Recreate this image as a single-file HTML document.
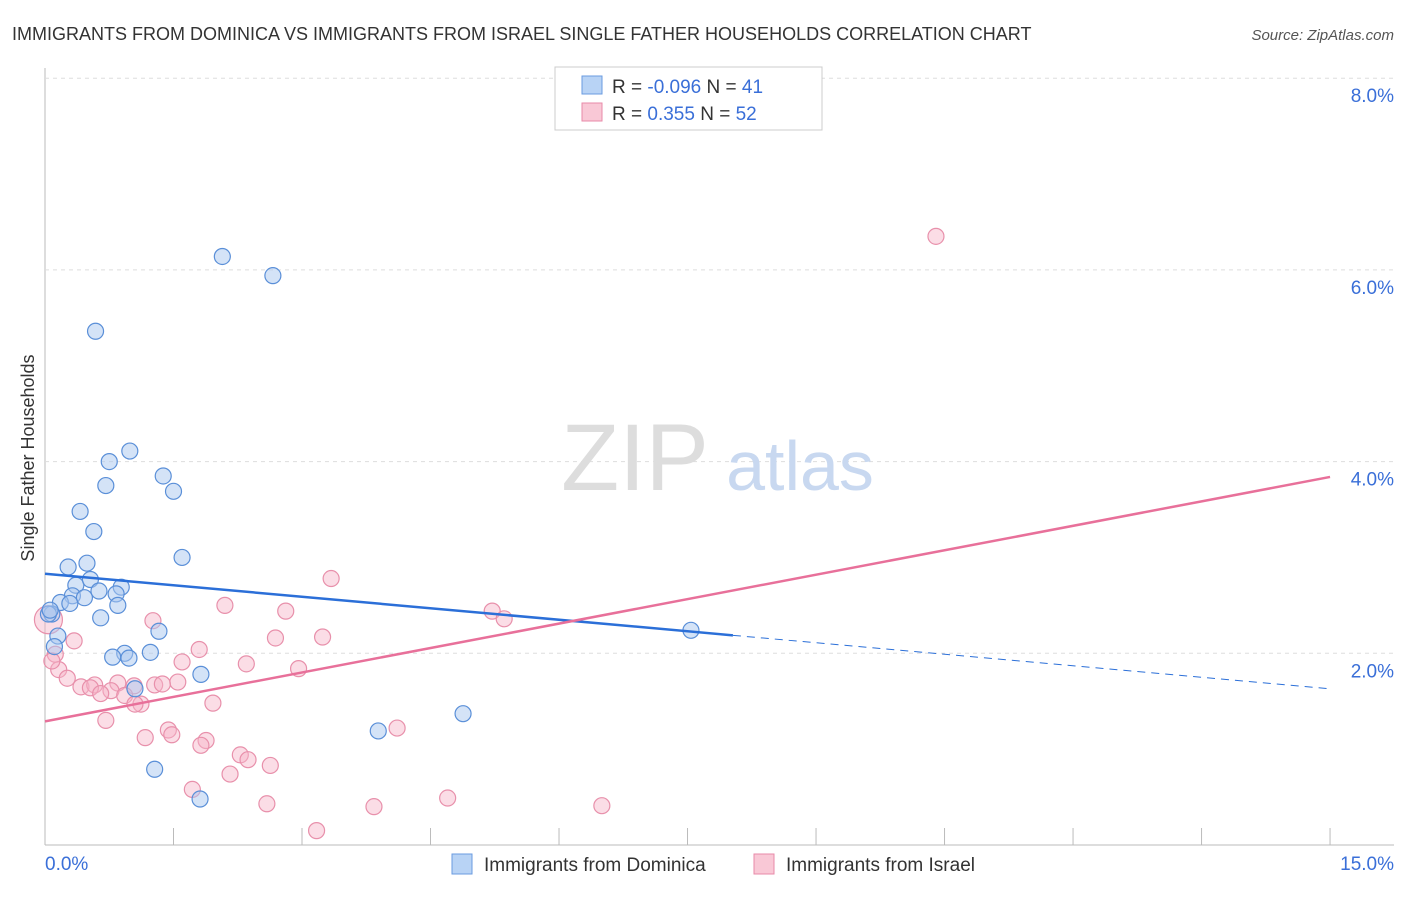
<!DOCTYPE html>
<html><head><meta charset="utf-8"><style>
body{margin:0;background:#fff;font-family:"Liberation Sans",sans-serif;}
svg text{font-family:"Liberation Sans",sans-serif;}
</style></head><body>
<svg id="chart" width="1406" height="892">
<text x="12" y="40" font-size="18" fill="#333">IMMIGRANTS FROM DOMINICA VS IMMIGRANTS FROM ISRAEL SINGLE FATHER HOUSEHOLDS CORRELATION CHART</text>
<text x="1394" y="40" font-size="15" fill="#555" font-style="italic" text-anchor="end">Source: ZipAtlas.com</text>
<g id="grid"></g>
<text x="635" y="490" font-size="95" fill="#ddd" font-family="Liberation Serif" text-anchor="middle">ZIP</text>
<text x="800" y="490" font-size="70" fill="#c8d8f0" text-anchor="middle">atlas</text>
<text transform="translate(34,458) rotate(-90)" font-size="18" fill="#333" text-anchor="middle">Single Father Households</text>
<g id="marks"></g>
<g>
<rect x="555" y="67" width="267" height="63" fill="#fff" stroke="#ccc"/>
<rect x="582" y="76" width="20" height="18" fill="#b8d3f5" stroke="#6a9be0"/>
<rect x="582" y="103" width="20" height="18" fill="#f9c8d6" stroke="#e88aa8"/>
<text x="612" y="93" font-size="19" fill="#333">R = <tspan fill="#3a6fd8">-0.096</tspan>   N = <tspan fill="#3a6fd8">41</tspan></text>
<text x="612" y="120" font-size="19" fill="#333">R =   <tspan fill="#3a6fd8">0.355</tspan>   N = <tspan fill="#3a6fd8">52</tspan></text>
</g>
<g>
<rect x="452" y="854" width="20" height="20" fill="#b8d3f5" stroke="#6a9be0"/>
<text x="484" y="871" font-size="19" fill="#333">Immigrants from Dominica</text>
<rect x="754" y="854" width="20" height="20" fill="#f9c8d6" stroke="#e88aa8"/>
<text x="786" y="871" font-size="19" fill="#333">Immigrants from Israel</text>
</g>
</svg>
<script>
const xTicks=[0,1.5,3,4.5,6,7.5,9,10.5,12,13.5,15];
const yTicks=[2,4,6,8];
const blueX=[2.07,2.66,0.59,0.99,0.75,1.38,0.71,1.5,0.41,0.57,1.6,0.49,0.27,0.36,0.53,0.89,0.32,0.46,0.18,0.29,0.63,0.83,0.85,0.65,0.08,0.04,0.15,0.11,1.33,0.93,1.23,0.79,0.98,1.82,1.05,7.54,4.88,3.89,1.28,1.81,0.06];
const blueY=[6.14,5.94,5.36,4.11,4.0,3.85,3.75,3.69,3.48,3.27,3.0,2.94,2.9,2.71,2.77,2.69,2.6,2.58,2.53,2.52,2.65,2.62,2.5,2.37,2.41,2.41,2.18,2.07,2.23,2.0,2.01,1.96,1.95,1.78,1.63,2.24,1.37,1.19,0.79,0.48,2.45];
const pinkX=[10.4,3.34,2.1,2.81,5.22,5.36,1.26,3.24,2.69,0.34,1.8,0.12,1.6,2.35,2.96,0.16,0.26,0.85,1.55,1.28,0.42,0.58,0.53,1.04,1.37,0.77,0.65,0.93,1.12,1.96,1.05,0.71,1.44,1.17,1.48,1.88,1.82,4.11,2.28,2.37,2.63,2.16,1.72,2.59,4.7,3.84,6.5,3.17,0.04,0.08];
const pinkY=[6.35,2.78,2.5,2.44,2.44,2.36,2.34,2.17,2.16,2.13,2.04,1.99,1.91,1.89,1.84,1.83,1.74,1.69,1.7,1.67,1.65,1.67,1.64,1.66,1.68,1.61,1.58,1.56,1.47,1.48,1.47,1.3,1.2,1.12,1.15,1.09,1.04,1.22,0.94,0.89,0.83,0.74,0.58,0.43,0.49,0.4,0.41,0.15,2.35,1.92];
const blueLine=[2.83,1.63], pinkLine=[1.29,3.84];
const xs=v=>45+v*85.67, ys=v=>845-v*95.85;
const NS="http://www.w3.org/2000/svg";
const grid=document.getElementById('grid'), marks=document.getElementById('marks');
function mk(tag,attrs,parent){const e=document.createElementNS(NS,tag);for(const k in attrs)e.setAttribute(k,attrs[k]);parent.appendChild(e);return e;}
let ax=mk('line',{x1:45,y1:845,x2:1394,y2:845,stroke:'#bbb'},grid);


let ay=mk('line',{x1:45,y1:68,x2:45,y2:845,stroke:'#bbb'},grid);


xTicks.forEach(t=>{let l=mk('line',{x1:xs(t),y1:828,x2:xs(t),y2:845,stroke:'#bbb'},grid);

});
yTicks.forEach(t=>{let l=mk('line',{x1:45,y1:ys(t),x2:1394,y2:ys(t),stroke:'#ddd','stroke-dasharray':'4,4'},grid);


let tx=mk('text',{x:1394,y:ys(t)+24,'font-size':19,fill:'#3a6fd8','text-anchor':'end'},grid);tx.textContent=t.toFixed(1)+'%';

});
let x0=mk('text',{x:45,y:870,'font-size':19,fill:'#3a6fd8'},grid);x0.textContent='0.0%';


let x1=mk('text',{x:1394,y:870,'font-size':19,fill:'#3a6fd8','text-anchor':'end'},grid);x1.textContent='15.0%';


pinkX.forEach((v,i)=>{let c=mk('circle',{cx:xs(v),cy:ys(pinkY[i]),r:i==48?14:8,fill:'rgba(246,180,200,0.45)',stroke:'#e890ab','stroke-width':1.2},marks);

});
blueX.forEach((v,i)=>{let c=mk('circle',{cx:xs(v),cy:ys(blueY[i]),r:8,fill:'rgba(170,200,240,0.5)',stroke:'#5a8fd8','stroke-width':1.2},marks);

});
const bAt=v=>blueLine[0]+(blueLine[1]-blueLine[0])*v/15;
let bl=mk('line',{x1:xs(0),y1:ys(bAt(0)),x2:xs(8.03),y2:ys(bAt(8.03)),stroke:'#2b6fd8','stroke-width':2.5},marks);


let bd=mk('line',{x1:xs(8.03),y1:ys(bAt(8.03)),x2:xs(15),y2:ys(bAt(15)),stroke:'#2b6fd8','stroke-width':1,'stroke-dasharray':'8,6'},marks);


let pl=mk('line',{x1:xs(0),y1:ys(pinkLine[0]),x2:xs(15),y2:ys(pinkLine[1]),stroke:'#e8709a','stroke-width':2.5},marks);


</script>
</body></html>
